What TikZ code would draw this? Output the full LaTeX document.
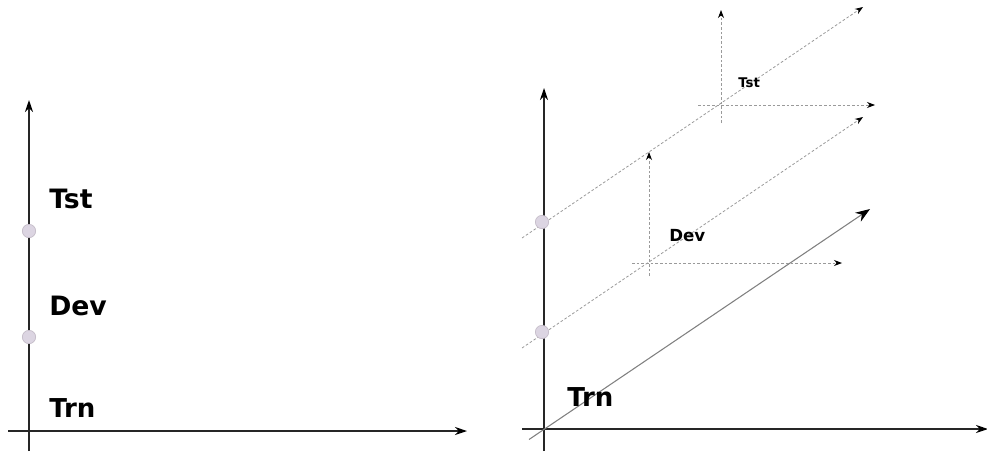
\documentclass[tikz,border=0pt]{standalone}
\usepackage{fontspec}
\setmainfont{DejaVu Sans}
\usetikzlibrary{arrows.meta}
\definecolor{dotfill}{HTML}{DCD5E2}
\definecolor{dotline}{HTML}{C4BCC8}
\definecolor{dashgray}{HTML}{9A9A9A}
\definecolor{solidgray}{HTML}{808080}
\tikzset{
  axis/.style={draw=black!85, line width=0.9pt, -{Stealth[length=9pt,width=6pt,color=black]}},
  dashline/.style={draw=dashgray, line width=0.6pt, dash pattern=on 2pt off 1.5pt, -{Stealth[length=6pt,width=4.5pt,color=black]}},
  trnline/.style={draw=solidgray, line width=0.8pt, -{Stealth[length=11pt,width=8pt,color=black]}},
  dot/.style={circle, fill=dotfill, draw=dotline, line width=0.5pt, minimum size=10pt, inner sep=0pt},
  lbl/.style={font=\bfseries, anchor=west, inner sep=0pt},
}
\begin{document}
\begin{tikzpicture}[x=0.75pt,y=-0.75pt]
\useasboundingbox (0,0) rectangle (987,451);
% ---------- left panel ----------
\coordinate (lyb) at (29,451);
\coordinate (lyt) at (29,100);
\coordinate (lxl) at (8,431);
\coordinate (lxr) at (467,431);
\draw[axis] (lxl) -- (lxr);
\draw[axis] (lyb) -- (lyt);
\node[dot] (ldot1) at (29,231) {};
\node[dot] (ldot2) at (29,337) {};
\node[lbl, font=\fontsize{20}{24}\bfseries\selectfont] (ltst) at (49,199) {Tst};
\node[lbl, font=\fontsize{20}{24}\bfseries\selectfont] (ldev) at (49,306) {Dev};
\node[lbl, font=\fontsize{19.5}{24}\bfseries\selectfont] (ltrn) at (49,408) {Trn};
% ---------- right panel ----------
\coordinate (ryb) at (544,451);
\coordinate (ryt) at (544,88);
\coordinate (rxl) at (522,429);
\coordinate (rxr) at (988,429);
\draw[axis] (rxl) -- (rxr);
\draw[axis] (ryb) -- (ryt);
% Trn line
\coordinate (trnA) at (529,439.5);
\coordinate (trnB) at (870,209);
\draw[trnline] (trnA) -- (trnB);
% Dev line and cross
\coordinate (devA) at (522,348);
\coordinate (devB) at (863,117);
\draw[dashline] (devA) -- (devB);
\coordinate (dvA) at (649,276);
\coordinate (dvB) at (649,152);
\draw[dashline] (dvA) -- (dvB);
\coordinate (dhA) at (632,263);
\coordinate (dhB) at (842,263);
\draw[dashline] (dhA) -- (dhB);
% Tst line and cross
\coordinate (tstA) at (522,238);
\coordinate (tstB) at (863,7);
\draw[dashline] (tstA) -- (tstB);
\coordinate (tvA) at (721,123);
\coordinate (tvB) at (721,10);
\draw[dashline] (tvA) -- (tvB);
\coordinate (thA) at (698,105);
\coordinate (thB) at (875,105);
\draw[dashline] (thA) -- (thB);
% dots
\node[dot] (rdot1) at (542,222) {};
\node[dot] (rdot2) at (542,332) {};
% labels
\node[lbl, font=\fontsize{19.5}{24}\bfseries\selectfont] (rtrn) at (567,397) {Trn};
\node[lbl, font=\fontsize{12.5}{15}\bfseries\selectfont] (rdev) at (669,236) {Dev};
\node[lbl, font=\fontsize{10}{12}\bfseries\selectfont] (rtst) at (738,83) {Tst};
\end{tikzpicture}
\end{document}
